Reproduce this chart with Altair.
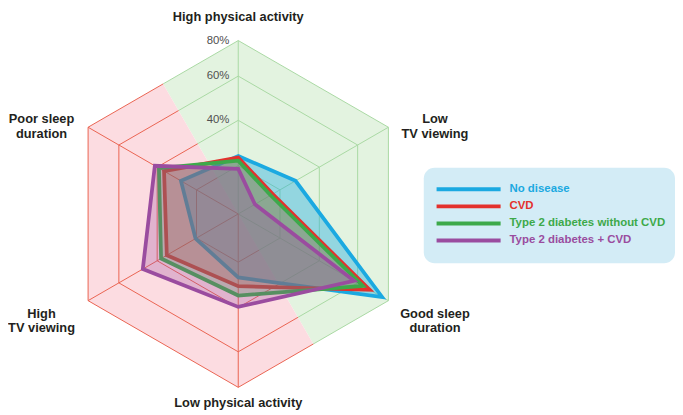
import altair as alt
import pandas as pd

# ---------------- data ----------------
AXIS_LABELS = ["High physical activity", "Low\nTV viewing", "Good sleep\nduration",
               "Low physical activity", "High\nTV viewing", "Poor sleep\nduration"]
AXIS_ANGLES = [90, 30, -30, -90, -150, 150]

SERIES_NAMES = ["No disease", "CVD", "Type 2 diabetes without CVD", "Type 2 diabetes + CVD"]
NO_DISEASE = [24.3, 27.9, 75.9, 26.7, 20.5, 27.9]
CVD = [23.6, 16.5, 67.8, 30.6, 35.1, 36.5]
T2D_NO_CVD = [22.2, 15.5, 63.4, 34.7, 38.0, 39.1]
T2D_CVD = [18.7, 8.0, 58.1, 39.7, 47.5, 41.2]
SERIES_VALUES = [NO_DISEASE, CVD, T2D_NO_CVD, T2D_CVD]
SERIES_COLORS = ["#1BA9E1", "#E3312D", "#3DA94A", "#9A4C9F"]
SERIES_FILL_OPACITY = [0.4, 0.28, 0.28, 0.28]

RING_VALUES = [20, 40, 60, 80]
TICK_VALUES = [40, 60, 80]
TICK_LABELS = ["40%", "60%", "80%"]
AXIS_MAX = 80

# radial scale (piecewise linear, value -> fraction of outer radius)
SCALE_DOMAIN = [0, 20, 40, 60, 80]
SCALE_RANGE = [0, 0.278, 0.540, 0.795, 1.0]

# ---------------- layout ----------------
W, H = 672, 399
CX, CY, R = 228.7, 206.0, 176.0
EDGE_K = 0.8660254  # edge midpoint radius factor

XS = alt.Scale(domain=[0, W], nice=False, zero=False)
YS = alt.Scale(domain=[0, H], nice=False, zero=False, reverse=True)

GREEN_FILL, RED_FILL = "#E3F3E0", "#FCDCE1"
GREEN_GRID, RED_GRID = "#A9D8A3", "#EA6350"
FONT = "Liberation Sans"


def radial(field):
    s = f"{SCALE_RANGE[-1]}"
    for i in range(len(SCALE_DOMAIN) - 1, 0, -1):
        v0, v1 = SCALE_DOMAIN[i - 1], SCALE_DOMAIN[i]
        r0, r1 = SCALE_RANGE[i - 1], SCALE_RANGE[i]
        seg = f"({r0} + ({field} - {v0}) * {(r1 - r0) / (v1 - v0)})"
        s = f"({field} <= {v1} ? {seg} : {s})"
    return s


def polar(ch):
    return (ch.transform_calculate(rn=radial("datum.value"))
              .transform_calculate(px=f"{CX} + {R} * datum.k * datum.rn * cos(datum.angle * PI / 180)")
              .transform_calculate(py=f"{CY} - {R} * datum.k * datum.rn * sin(datum.angle * PI / 180)"))


def xy():
    return dict(x=alt.X("px:Q", scale=XS, axis=None), y=alt.Y("py:Q", scale=YS, axis=None))


GREEN_PATH = [(120, EDGE_K), (90, 1), (30, 1), (-30, 1), (-60, EDGE_K)]
RED_PATH = [(-60, EDGE_K), (-90, 1), (-150, 1), (150, 1), (120, EDGE_K)]

layers = []

# background halves
for path, fillc in [(GREEN_PATH, GREEN_FILL), (RED_PATH, RED_FILL)]:
    rows = [dict(seq=0, angle=0, k=1, value=0)]
    rows += [dict(seq=i + 1, angle=a, k=k, value=AXIS_MAX) for i, (a, k) in enumerate(path)]
    df = pd.DataFrame(rows)
    layers.append(polar(alt.Chart(df).mark_line(interpolate="linear-closed", fill=fillc,
                                               strokeWidth=0, strokeOpacity=0))
                  .encode(order="seq:Q", **xy()))

# grid rings and spokes
for path, col, angles in [(GREEN_PATH, GREEN_GRID, AXIS_ANGLES[:3]), (RED_PATH, RED_GRID, AXIS_ANGLES[3:])]:
    rows = []
    for rv in RING_VALUES:
        rows += [dict(ring=rv, seq=i, angle=a, k=k, value=rv) for i, (a, k) in enumerate(path)]
    df = pd.DataFrame(rows)
    layers.append(polar(alt.Chart(df).mark_line(stroke=col, strokeWidth=1))
                  .encode(order="seq:Q", detail="ring:N", **xy()))
    rows = []
    for a in angles:
        rows += [dict(spoke=a, seq=0, angle=a, k=1, value=0), dict(spoke=a, seq=1, angle=a, k=1, value=AXIS_MAX)]
    df = pd.DataFrame(rows)
    layers.append(polar(alt.Chart(df).mark_line(stroke=col, strokeWidth=1))
                  .encode(order="seq:Q", detail="spoke:N", **xy()))

# series polygons
for name, vals, col, fo in zip(SERIES_NAMES, SERIES_VALUES, SERIES_COLORS, SERIES_FILL_OPACITY):
    df = pd.DataFrame(dict(series=name, seq=list(range(len(vals))), angle=AXIS_ANGLES, k=1, value=vals))
    layers.append(polar(alt.Chart(df).mark_line(interpolate="linear-closed", stroke=col, strokeWidth=3.8,
                                               strokeJoin="miter", fill=col, fillOpacity=fo))
                  .encode(order="seq:Q", **xy()))

# percent tick labels
df = pd.DataFrame(dict(value=TICK_VALUES, label=TICK_LABELS, angle=90, k=1))
layers.append(polar(alt.Chart(df).mark_text(align="right", baseline="middle", dx=-9, font=FONT,
                                           fontSize=11.5, color="#505050"))
              .encode(text="label:N", **xy()))

# axis labels
df = pd.DataFrame(dict(label=AXIS_LABELS, angle=AXIS_ANGLES))
lab = (alt.Chart(df)
       .transform_calculate(s="sin(datum.angle * PI / 180)", c="cos(datum.angle * PI / 180)")
       .transform_calculate(
           lx=f"{CX} + {R} * 1.31 * datum.c",
           ly=f"{CY} - {R} * (datum.s > 0.99 ? 1.136 : (datum.s < -0.99 ? 1.09 : "
              f"(datum.s > 0 ? 1.09 : 1.155))) * datum.s")
       .mark_text(align="center", baseline="middle", font=FONT, fontSize=13, fontWeight="bold",
                  color="#231F20", lineHeight=14.5, lineBreak="\n")
       .encode(x=alt.X("lx:Q", scale=XS, axis=None), y=alt.Y("ly:Q", scale=YS, axis=None),
               text="label:N"))
layers.append(lab)

# legend
LEG_X0, LEG_X1, LEG_Y0, LEG_Y1 = 417, 672, 159, 256
box = alt.Chart(pd.DataFrame({"a": [0]})).mark_rect(color="#D3ECF6", cornerRadius=11).encode(
    x=alt.value(LEG_X0), x2=alt.value(LEG_X1), y=alt.value(LEG_Y0), y2=alt.value(LEG_Y1))
layers.append(box)
leg_df = pd.DataFrame(dict(series=SERIES_NAMES, i=list(range(len(SERIES_NAMES)))))
cscale = alt.Scale(domain=SERIES_NAMES, range=SERIES_COLORS)
leg_base = alt.Chart(leg_df).transform_calculate(ly="181 + datum.i * 17.3")
layers.append(leg_base.mark_rule(strokeWidth=4).encode(
    x=alt.value(430), x2=alt.value(495), y=alt.Y("ly:Q", scale=YS, axis=None),
    color=alt.Color("series:N", scale=cscale, legend=None)))
layers.append(leg_base.mark_text(align="left", baseline="middle", font=FONT, fontSize=11.6,
                                 fontWeight="bold").encode(
    x=alt.value(504), y=alt.Y("ly:Q", scale=YS, axis=None), text="series:N",
    color=alt.Color("series:N", scale=cscale, legend=None)))

chart = (alt.layer(*layers)
         .properties(width=W, height=H, padding=0)
         .configure_view(stroke=None))

chart.save("out.html", embed_options={"renderer": "svg", "actions": False})
